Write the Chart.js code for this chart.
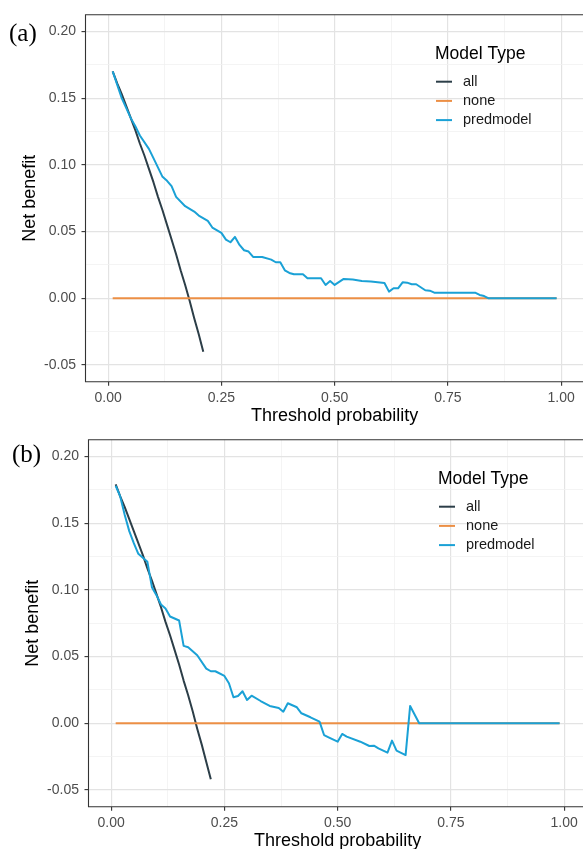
<!DOCTYPE html>
<html>
<head>
<meta charset="utf-8">
<title>Decision curves</title>
<script src="https://cdn.jsdelivr.net/npm/chart.js@4.4.1/dist/chart.umd.min.js"></script>
<style>
    html, body { margin: 0; padding: 0; background: #fff; overflow: hidden; }
    body { width: 583px; height: 849px; position: relative; }
    canvas { position: absolute; }
    #canvas-a { left: 0; top: 0; }
    #canvas-b { left: 3px; top: 425px; }
    .panel-tag {
        position: absolute;
        font-family: 'Liberation Serif', 'Times New Roman', serif;
        font-size: 25px;
        line-height: 25px;
        color: #000;
    }
</style>
</head>
<body>
<canvas id="canvas-a" width="600" height="432"></canvas>
<canvas id="canvas-b" width="600" height="432"></canvas>
<div class="panel-tag" style="left:9px;top:20px">(a)</div>
<div class="panel-tag" style="left:12px;top:441px">(b)</div>
<script>
var seriesNames = ['all', 'none', 'predmodel'];
var seriesColors = ['#2c3e48', '#ec8f45', '#1aa1d6'];

var xTicks = [0, 0.25, 0.5, 0.75, 1];
var xMinorTicks = [0.125, 0.375, 0.625, 0.875];
var yTicks = [-0.05, 0, 0.05, 0.1, 0.15, 0.2];
var yMinorTicks = [-0.025, 0.025, 0.075, 0.125, 0.175];

// panel (a)
var allThresholdA = [0.01, 0.02, 0.03, 0.04, 0.05, 0.06, 0.07, 0.08, 0.09, 0.10, 0.11,
    0.12, 0.13, 0.14, 0.15, 0.16, 0.17, 0.18, 0.19, 0.20, 0.21];
var allBenefitA = [0.170, 0.161, 0.153, 0.144, 0.135, 0.126, 0.116, 0.107, 0.097, 0.087, 0.076,
    0.066, 0.055, 0.044, 0.033, 0.021, 0.010, -0.002, -0.015, -0.027, -0.040];
var noneThresholdA = [0.01, 0.99];
var noneBenefitA = [0, 0];
var predThresholdA = [0.01, 0.03, 0.05, 0.06, 0.07, 0.09, 0.10, 0.12, 0.13, 0.14, 0.15, 0.17,
    0.19, 0.20, 0.22, 0.23, 0.25, 0.26, 0.27, 0.28, 0.29, 0.30, 0.31, 0.32, 0.34, 0.36, 0.37,
    0.38, 0.39, 0.40, 0.41, 0.43, 0.44, 0.47, 0.48, 0.49, 0.50, 0.52, 0.54, 0.56, 0.58, 0.61,
    0.62, 0.63, 0.64, 0.65, 0.66, 0.67, 0.68, 0.69, 0.70, 0.71, 0.72, 0.81, 0.82, 0.83, 0.84, 0.99];
var predBenefitA = [0.170, 0.150, 0.135, 0.129, 0.122, 0.112, 0.105, 0.091, 0.088, 0.084, 0.076, 0.069,
    0.065, 0.062, 0.058, 0.053, 0.049, 0.044, 0.042, 0.046, 0.040, 0.036, 0.035, 0.031, 0.031, 0.029, 0.027,
    0.027, 0.021, 0.019, 0.018, 0.018, 0.015, 0.015, 0.010, 0.013, 0.010, 0.0145, 0.014, 0.013, 0.0125, 0.0115,
    0.005, 0.0075, 0.0075, 0.012, 0.0117, 0.0105, 0.0105, 0.0083, 0.006, 0.0057, 0.0042, 0.0042, 0.0025, 0.0017, 0, 0];

// panel (b)
var allThresholdB = [0.01, 0.02, 0.03, 0.04, 0.05, 0.06, 0.07, 0.08, 0.09, 0.10, 0.11,
    0.12, 0.13, 0.14, 0.15, 0.16, 0.17, 0.18, 0.19, 0.20, 0.21, 0.22];
var allBenefitB = [0.179, 0.170, 0.162, 0.153, 0.144, 0.135, 0.126, 0.116, 0.107, 0.097, 0.087,
    0.076, 0.066, 0.055, 0.044, 0.032, 0.021, 0.009, -0.004, -0.016, -0.029, -0.042];
var noneThresholdB = [0.01, 0.99];
var noneBenefitB = [0, 0];
var predThresholdB = [0.01, 0.02, 0.03, 0.04, 0.05, 0.06, 0.07, 0.08, 0.09, 0.10, 0.11, 0.12, 0.13,
    0.15, 0.16, 0.17, 0.19, 0.21, 0.22, 0.23, 0.25, 0.26, 0.27, 0.28, 0.29, 0.30, 0.31, 0.33, 0.35,
    0.37, 0.38, 0.39, 0.41, 0.42, 0.44, 0.46, 0.47, 0.48, 0.50, 0.51, 0.52, 0.55, 0.57, 0.58, 0.59,
    0.61, 0.62, 0.63, 0.65, 0.66, 0.68, 0.99];
var predBenefitB = [0.178, 0.170, 0.156, 0.144, 0.135, 0.127, 0.124, 0.121, 0.102, 0.096, 0.089, 0.086, 0.080,
    0.077, 0.058, 0.057, 0.051, 0.041, 0.039, 0.039, 0.0355, 0.030, 0.0195, 0.0205, 0.024, 0.0175, 0.0207, 0.0167, 0.013,
    0.0115, 0.0087, 0.015, 0.012, 0.0075, 0.0045, 0.0012, -0.0088, -0.0105, -0.0138, -0.008, -0.010, -0.0138, -0.017, -0.0168, -0.0188,
    -0.022, -0.013, -0.0205, -0.0238, 0.013, 0, 0];

var FONT = "'Liberation Sans', Arial, sans-serif";

function toPoints(xs, ys) {
    var pts = [];
    for (var i = 0; i < xs.length; i++) {
        pts.push({ x: xs[i], y: ys[i] });
    }
    return pts;
}

function isMajor(list, v) {
    for (var i = 0; i < list.length; i++) {
        if (Math.abs(list[i] - v) < 1e-9) return true;
    }
    return false;
}

// panel border (right side is off-page) + legend inside the plot
var panelDecor = {
    id: 'panelDecor',
    afterDraw: function (chart) {
        var ctx = chart.ctx;
        var area = chart.chartArea;
        ctx.save();
        ctx.strokeStyle = '#333333';
        ctx.lineWidth = 1.1;
        ctx.beginPath();
        ctx.moveTo(area.right + 4, area.top);
        ctx.lineTo(area.left, area.top);
        ctx.lineTo(area.left, area.bottom);
        ctx.lineTo(area.right + 4, area.bottom);
        ctx.stroke();

        var lx = area.left + 349.5;
        var ly = area.top + 39.3;
        ctx.textAlign = 'left';
        ctx.textBaseline = 'middle';
        ctx.fillStyle = '#000';
        ctx.font = '17.5px ' + FONT;
        ctx.fillText('Model Type', lx, ly);
        ctx.font = '14.5px ' + FONT;
        chart.data.datasets.forEach(function (ds, i) {
            var y = ly + 27.7 + i * 19.2;
            ctx.strokeStyle = ds.borderColor;
            ctx.lineWidth = 2;
            ctx.beginPath();
            ctx.moveTo(lx + 1, y);
            ctx.lineTo(lx + 17, y);
            ctx.stroke();
            ctx.fillStyle = '#1a1a1a';
            ctx.fillText(ds.label, lx + 28, y);
        });
        ctx.restore();
    }
};

function gridOptions(majors) {
    return {
        drawTicks: true,
        tickLength: 4,
        tickWidth: 1.1,
        color: function (c) { return isMajor(majors, c.tick.value) ? '#e3e3e3' : '#f1f1f1'; },
        lineWidth: function (c) { return isMajor(majors, c.tick.value) ? 1.2 : 0.8; },
        tickColor: function (c) { return isMajor(majors, c.tick.value) ? '#333333' : 'rgba(0,0,0,0)'; }
    };
}

function makeChart(canvasId, all, none, pred) {
    var lines = [all, none, pred];
    var datasets = [];
    for (var i = 0; i < seriesNames.length; i++) {
        datasets.push({
            label: seriesNames[i],
            data: toPoints(lines[i][0], lines[i][1]),
            borderColor: seriesColors[i],
            borderWidth: 2,
            borderJoinStyle: 'round',
            pointRadius: 0,
            showLine: true,
            tension: 0,
            order: seriesNames.length - i
        });
    }

    return new Chart(document.getElementById(canvasId), {
        type: 'scatter',
        data: { datasets: datasets },
        plugins: [panelDecor],
        options: {
            responsive: false,
            animation: false,
            layout: { padding: { top: 14.7, right: 16.2, bottom: 7, left: 0 } },
            plugins: {
                legend: { display: false },
                tooltip: { enabled: false }
            },
            scales: {
                x: {
                    type: 'linear',
                    min: -0.05,
                    max: 1.05,
                    afterBuildTicks: function (scale) {
                        scale.ticks = xTicks.concat(xMinorTicks).map(function (v) { return { value: v }; });
                    },
                    afterFit: function (scale) { scale.height = 43.3; },
                    border: { display: false },
                    grid: gridOptions(xTicks),
                    ticks: {
                        autoSkip: false,
                        maxRotation: 0,
                        padding: 4,
                        color: '#4d4d4d',
                        font: { family: FONT, size: 14 },
                        callback: function (v) { return isMajor(xTicks, v) ? v.toFixed(2) : ''; }
                    },
                    title: {
                        display: true,
                        text: 'Threshold probability',
                        color: '#000',
                        font: { family: FONT, size: 18, lineHeight: 1 },
                        padding: { top: 0, bottom: 0 }
                    }
                },
                y: {
                    type: 'linear',
                    min: -0.0625,
                    max: 0.2125,
                    afterBuildTicks: function (scale) {
                        scale.ticks = yTicks.concat(yMinorTicks).map(function (v) { return { value: v }; });
                    },
                    afterFit: function (scale) { scale.width = 85.5; },
                    border: { display: false },
                    grid: gridOptions(yTicks),
                    ticks: {
                        autoSkip: false,
                        padding: 5.5,
                        color: '#4d4d4d',
                        font: { family: FONT, size: 14 },
                        callback: function (v) { return isMajor(yTicks, v) ? v.toFixed(2) : ''; }
                    },
                    title: {
                        display: true,
                        text: 'Net benefit',
                        color: '#000',
                        font: { family: FONT, size: 18, lineHeight: 1 },
                        padding: { top: 20.7, bottom: 0 }
                    }
                }
            }
        }
    });
}

makeChart('canvas-a', [allThresholdA, allBenefitA], [noneThresholdA, noneBenefitA], [predThresholdA, predBenefitA]);
makeChart('canvas-b', [allThresholdB, allBenefitB], [noneThresholdB, noneBenefitB], [predThresholdB, predBenefitB]);
</script>
</body>
</html>
